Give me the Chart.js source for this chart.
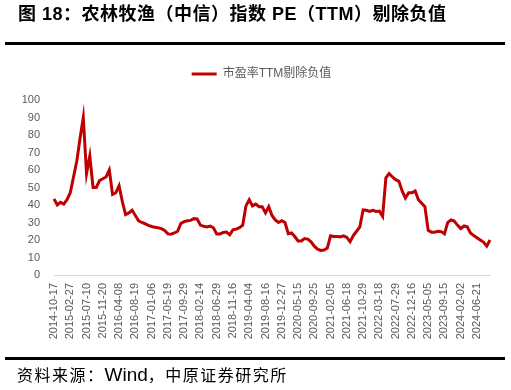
<!DOCTYPE html>
<html>
<head>
<meta charset="utf-8">
<script src="https://cdn.jsdelivr.net/npm/chart.js@4.4.1/dist/chart.umd.min.js"></script>
<style>
  body { margin: 0; background: #fff; }
  #wrap { position: relative; width: 511px; height: 390px; overflow: hidden; }
  #peChart { position: absolute; left: 0; top: 0; }
  .titulo { position: absolute; left: 18px; top: 4px; font: bold 18px/21px "Liberation Sans", "Noto Sans CJK SC", sans-serif; letter-spacing: 0.5px; color: #000; white-space: nowrap; }
  .fonte { position: absolute; left: 17px; top: 363px; font: 16px/22px "Noto Sans CJK SC", sans-serif; letter-spacing: 1.5px; color: #000; white-space: nowrap; }
  .fonte .lat { font-family: "Liberation Sans", sans-serif; font-size: 19px; letter-spacing: 0; }
  .regua { position: absolute; left: 5px; width: 500px; height: 3px; background: #000; }
</style>
</head>
<body>
<div id="wrap">
  <canvas id="peChart" width="511" height="390"></canvas>
  <div class="titulo">图 18：农林牧渔（中信）指数 PE（TTM）剔除负值</div>
  <div class="regua" style="top:42px"></div>
  <div class="regua" style="top:357px"></div>
  <div class="fonte">资料来源：<span class="lat">Wind</span>，中原证券研究所</div>
</div>
<script>
// rótulos do eixo x (um a cada 5 pontos)
const tickLabels = [
  "2014-10-17", "2015-02-27", "2015-07-10", "2015-11-20", "2016-04-08", "2016-08-19",
  "2017-01-06", "2017-05-19", "2017-09-29", "2018-02-14", "2018-06-29", "2018-11-16",
  "2019-04-04", "2019-08-16", "2019-12-27", "2020-05-15", "2020-09-25", "2021-02-05",
  "2021-06-18", "2021-10-29", "2022-03-18", "2022-07-29", "2022-12-16", "2023-05-05",
  "2023-09-15", "2024-02-02", "2024-06-21"
];
const seriesName = "市盈率TTM剔除负值";
// valores
const peValues = [
  43.5, 40, 41.5, 40.5, 43, 47, 56, 65, 78, 90,
  58, 68, 50, 50, 54, 55, 56, 60, 46, 47,
  51, 42, 34.5, 35.5, 37, 34, 31, 30, 29.3, 28.4,
  27.7, 27.3, 27, 26.5, 25.5, 23.5, 23.3, 24, 25, 29.5,
  30.5, 31, 31.2, 32.2, 32, 28.5, 27.8, 27.5, 28, 27,
  23.5, 23.5, 24.3, 24.5, 23, 25.8, 26.2, 27, 28.5, 39.5,
  43, 39.5, 40.5, 39, 39, 35.5, 39, 34, 31.5, 30,
  31, 30, 23.6, 24, 22, 19.5, 19.5, 20.8, 20.5, 19,
  16.5, 14.8, 14, 14.3, 15.4, 22.4, 22, 22, 21.8, 22.4,
  21.5, 19, 22.5, 25, 27.5, 37.2, 37, 36.3, 37, 36.3,
  36.5, 33.5, 55.5, 58, 56, 54.5, 53.5, 48, 44, 47,
  47, 48, 43, 41, 39, 25.5, 24.5, 24.5, 25, 24.8,
  23.5, 30, 31.5, 30.8, 28.5, 26.5, 28, 27.5, 24, 22.5,
  21.3, 20, 18.8, 16.5, 20
];
const passo = 5;
const categorias = peValues.map((v, i) => (i % passo === 0 ? tickLabels[i / passo] || "" : ""));

Chart.defaults.font.family = '"Liberation Sans", "Noto Sans CJK SC", sans-serif';
const cinza = "#595959";

new Chart(document.getElementById("peChart"), {
  type: "line",
  data: {
    labels: categorias,
    datasets: [
      {
        label: seriesName,
        data: peValues,
        borderColor: "#c00000",
        backgroundColor: "#c00000",
        borderWidth: 3,
        pointRadius: 0,
        tension: 0,
      },
    ],
  },
  options: {
    responsive: false,
    animation: false,
    layout: { padding: { left: 12, right: 0, top: 58, bottom: 0 } },
    plugins: {
      legend: {
        position: "top",
        labels: {
          usePointStyle: true,
          pointStyle: "line",
          pointStyleWidth: 25,
          color: cinza,
          padding: 10,
          font: { size: 12 },
        },
      },
      // espaçador entre a legenda e a área do gráfico
      subtitle: {
        display: true,
        text: "",
        position: "top",
        weight: 500,
        padding: { top: 0, bottom: 9 },
        font: { size: 1, lineHeight: 1 },
      },
      tooltip: { enabled: false },
    },
    scales: {
      x: {
        grid: { display: false, drawTicks: false },
        border: { display: true, color: "#d9d9d9", width: 1 },
        ticks: {
          autoSkip: false,
          maxRotation: 90,
          minRotation: 90,
          padding: 8,
          color: cinza,
          font: { size: 11 },
        },
        afterFit: (s) => {
          s.height = 115;
          s.paddingRight = 21; // margem direita sem deslocar a legenda
        },
      },
      y: {
        min: 0,
        max: 100,
        grid: { display: false, drawTicks: false },
        border: { display: false },
        ticks: { stepSize: 10, padding: 14, color: cinza, font: { size: 11 } },
        afterFit: (s) => { s.width = 42; },
      },
    },
  },
});
</script>
</body>
</html>
